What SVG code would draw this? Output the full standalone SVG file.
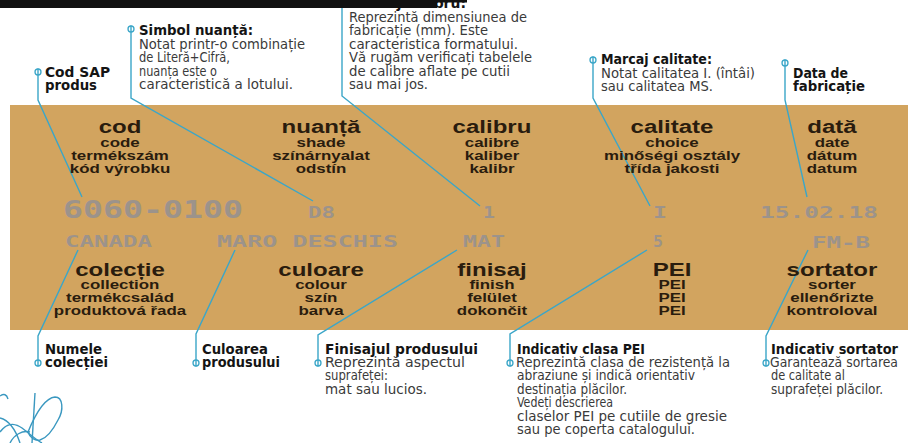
<svg xmlns="http://www.w3.org/2000/svg" width="909" height="443" viewBox="0 0 909 443">
<style>
.t{font-family:"DejaVu Sans Condensed","Liberation Sans Narrow",sans-serif;font-stretch:condensed;font-size:14.5px;fill:#3a3a3a}
.tb{font-weight:bold;fill:#141414}
.h{font-family:"Liberation Sans",Arial,sans-serif;font-weight:bold;font-size:18.5px;fill:#2a1c0e;text-anchor:middle}
.s{font-size:13px}
.m{font-family:"DejaVu Sans Mono","Liberation Mono",monospace;font-weight:bold;fill:#9c938b}
.c{fill:none;stroke:#3ba6c8;stroke-width:1.4}
.dot{fill:none;stroke:#3ba6c8;stroke-width:1.3}
.sig{fill:none;stroke:#3a98c0;stroke-width:1.4}
</style>
<rect x="0" y="0" width="909" height="443" fill="#fff"/>
<rect id="band" x="10" y="105" width="898" height="225" fill="#D2A45F"/>

<g id="connectors">
<path class="c" d="M38,68.5 V100 L82,197"/><circle class="dot" cx="38" cy="72" r="3"/>
<path class="c" d="M131,25.5 V98 L313,201"/><circle class="dot" cx="131" cy="29" r="3"/>
<path class="c" d="M342,3 V96 L480,206"/>
<path class="c" d="M593,56.5 V98 L650,206"/><circle class="dot" cx="593" cy="60" r="3"/>
<path class="c" d="M785,59.5 V100 L807,197"/><circle class="dot" cx="785" cy="63" r="3"/>
<path class="c" d="M78,250 L38,336 V366.5"/><circle class="dot" cx="38" cy="363" r="3"/>
<path class="c" d="M235,250 L196,334 V366.5"/><circle class="dot" cx="196" cy="363" r="3"/>
<path class="c" d="M457,250 L318,335 V366.5"/><circle class="dot" cx="318" cy="363" r="3"/>
<path class="c" d="M647,250 L510,334 V366.5"/><circle class="dot" cx="510" cy="363" r="3"/>
<path class="c" d="M808,250 L766,336 V366.5"/><circle class="dot" cx="766" cy="363" r="3"/>
</g>

<g id="col-cod" transform="translate(120 0) scale(1.3 1)">
<text class="h" x="0" y="133">cod</text>
<text class="h s" x="0" y="147">code</text>
<text class="h s" x="0" y="160">termékszám</text>
<text class="h s" x="0" y="173">kód výrobku</text>
</g>
<g id="col-nuanta" transform="translate(321 0) scale(1.3 1)">
<text class="h" x="0" y="133">nuanță</text>
<text class="h s" x="0" y="147">shade</text>
<text class="h s" x="0" y="160">színárnyalat</text>
<text class="h s" x="0" y="173">odstín</text>
</g>
<g id="col-calibru" transform="translate(492 0) scale(1.3 1)">
<text class="h" x="0" y="133">calibru</text>
<text class="h s" x="0" y="147">calibre</text>
<text class="h s" x="0" y="160">kaliber</text>
<text class="h s" x="0" y="173">kalibr</text>
</g>
<g id="col-calitate" transform="translate(672 0) scale(1.3 1)">
<text class="h" x="0" y="133">calitate</text>
<text class="h s" x="0" y="147">choice</text>
<text class="h s" x="0" y="160">minőségi osztály</text>
<text class="h s" x="0" y="173">třída jakosti</text>
</g>
<g id="col-data" transform="translate(832 0) scale(1.3 1)">
<text class="h" x="0" y="133">dată</text>
<text class="h s" x="0" y="147">date</text>
<text class="h s" x="0" y="160">dátum</text>
<text class="h s" x="0" y="173">datum</text>
</g>
<g id="col-colectie" transform="translate(120 0) scale(1.3 1)">
<text class="h" x="0" y="276">colecție</text>
<text class="h s" x="0" y="289">collection</text>
<text class="h s" x="0" y="302">termékcsalád</text>
<text class="h s" x="0" y="315">produktová řada</text>
</g>
<g id="col-culoare" transform="translate(321 0) scale(1.3 1)">
<text class="h" x="0" y="276">culoare</text>
<text class="h s" x="0" y="289">colour</text>
<text class="h s" x="0" y="302">szín</text>
<text class="h s" x="0" y="315">barva</text>
</g>
<g id="col-finisaj" transform="translate(492 0) scale(1.3 1)">
<text class="h" x="0" y="276">finisaj</text>
<text class="h s" x="0" y="289">finish</text>
<text class="h s" x="0" y="302">felület</text>
<text class="h s" x="0" y="315">dokončit</text>
</g>
<g id="col-pei" transform="translate(672 0) scale(1.3 1)">
<text class="h" x="0" y="276">PEI</text>
<text class="h s" x="0" y="289">PEI</text>
<text class="h s" x="0" y="302">PEI</text>
<text class="h s" x="0" y="315">PEI</text>
</g>
<g id="col-sortator" transform="translate(832 0) scale(1.3 1)">
<text class="h" x="0" y="276">sortator</text>
<text class="h s" x="0" y="289">sorter</text>
<text class="h s" x="0" y="302">ellenőrizte</text>
<text class="h s" x="0" y="315">kontroloval</text>
</g>

<g id="values">
<text class="m" x="63" y="218" font-size="24.5" textLength="180" lengthAdjust="spacingAndGlyphs">6060-0100</text>
<text class="m" x="308" y="218" font-size="15" textLength="27" lengthAdjust="spacingAndGlyphs">D8</text>
<text class="m" x="483" y="218" font-size="15" textLength="12" lengthAdjust="spacingAndGlyphs">1</text>
<text class="m" x="653" y="218" font-size="15" textLength="14" lengthAdjust="spacingAndGlyphs">I</text>
<text class="m" x="760" y="218" font-size="16" textLength="118" lengthAdjust="spacingAndGlyphs">15.02.18</text>
<text class="m" x="65" y="247" font-size="16" textLength="87" lengthAdjust="spacingAndGlyphs">CANADA</text>
<text class="m" x="217" y="247" font-size="16" textLength="181" lengthAdjust="spacingAndGlyphs">MARO DESCHIS</text>
<text class="m" x="463" y="247" font-size="16" textLength="42" lengthAdjust="spacingAndGlyphs">MAT</text>
<text class="m" x="653" y="247" font-size="16" textLength="10" lengthAdjust="spacingAndGlyphs">5</text>
<text class="m" x="812" y="248" font-size="16" textLength="58" lengthAdjust="spacingAndGlyphs">FM-B</text>
</g>

<g id="note-cod">
<text class="t tb" x="45" y="77" textLength="65" lengthAdjust="spacingAndGlyphs">Cod SAP</text>
<text class="t tb" x="45" y="90" textLength="52" lengthAdjust="spacingAndGlyphs">produs</text>
</g>
<g id="note-nuanta">
<text class="t tb" x="139" y="35" textLength="114" lengthAdjust="spacingAndGlyphs">Simbol nuanță:</text>
<text class="t" x="139" y="48.5" textLength="166" lengthAdjust="spacingAndGlyphs">Notat printr-o combinație</text>
<text class="t" x="139" y="62" textLength="91" lengthAdjust="spacingAndGlyphs">de Literă+Cifră,</text>
<text class="t" x="139" y="75.5" textLength="78" lengthAdjust="spacingAndGlyphs">nuanța este o</text>
<text class="t" x="139" y="89" textLength="154" lengthAdjust="spacingAndGlyphs">caracteristică a lotului.</text>
</g>
<g id="note-calibru">
<text class="t tb" x="349" y="8" textLength="117" lengthAdjust="spacingAndGlyphs">Marcaj calibru:</text>
<text class="t" x="349" y="21.5" textLength="178" lengthAdjust="spacingAndGlyphs">Reprezintă dimensiunea de</text>
<text class="t" x="349" y="35" textLength="139" lengthAdjust="spacingAndGlyphs">fabricație (mm). Este</text>
<text class="t" x="349" y="48.5" textLength="169" lengthAdjust="spacingAndGlyphs">caracteristica formatului.</text>
<text class="t" x="349" y="62" textLength="183" lengthAdjust="spacingAndGlyphs">Vă rugăm verificați tabelele</text>
<text class="t" x="349" y="75.5" textLength="161" lengthAdjust="spacingAndGlyphs">de calibre aflate pe cutii</text>
<text class="t" x="349" y="89" textLength="79" lengthAdjust="spacingAndGlyphs">sau mai jos.</text>
</g>
<g id="note-calitate">
<text class="t tb" x="601" y="64" textLength="111" lengthAdjust="spacingAndGlyphs">Marcaj calitate:</text>
<text class="t" x="601" y="77.5" textLength="154" lengthAdjust="spacingAndGlyphs">Notat calitatea I. (întâi)</text>
<text class="t" x="601" y="91" textLength="112" lengthAdjust="spacingAndGlyphs">sau calitatea MS.</text>
</g>
<g id="note-data">
<text class="t tb" x="793" y="78" textLength="55" lengthAdjust="spacingAndGlyphs">Data de</text>
<text class="t tb" x="793" y="91" textLength="72" lengthAdjust="spacingAndGlyphs">fabricație</text>
</g>
<g id="note-colectie">
<text class="t tb" x="45" y="354" textLength="57" lengthAdjust="spacingAndGlyphs">Numele</text>
<text class="t tb" x="45" y="367" textLength="63" lengthAdjust="spacingAndGlyphs">colecției</text>
</g>
<g id="note-culoare">
<text class="t tb" x="202" y="354" textLength="66" lengthAdjust="spacingAndGlyphs">Culoarea</text>
<text class="t tb" x="202" y="367" textLength="78" lengthAdjust="spacingAndGlyphs">produsului</text>
</g>
<g id="note-finisaj">
<text class="t tb" x="325" y="354" textLength="153" lengthAdjust="spacingAndGlyphs">Finisajul produsului</text>
<text class="t" x="325" y="367" textLength="140" lengthAdjust="spacingAndGlyphs">Reprezintă aspectul</text>
<text class="t" x="325" y="380.4" textLength="63" lengthAdjust="spacingAndGlyphs">suprafeței:</text>
<text class="t" x="325" y="393.8" textLength="102" lengthAdjust="spacingAndGlyphs">mat sau lucios.</text>
</g>
<g id="note-pei">
<text class="t tb" x="517" y="354" textLength="128" lengthAdjust="spacingAndGlyphs">Indicativ clasa PEI</text>
<text class="t" x="516" y="367" textLength="214" lengthAdjust="spacingAndGlyphs">Reprezintă clasa de rezistență la</text>
<text class="t" x="517" y="380.4" textLength="178" lengthAdjust="spacingAndGlyphs">abraziune și indică orientativ</text>
<text class="t" x="517" y="393.8" textLength="110" lengthAdjust="spacingAndGlyphs">destinația plăcilor.</text>
<text class="t" x="517" y="407.2" textLength="96" lengthAdjust="spacingAndGlyphs">Vedeți descrierea</text>
<text class="t" x="517" y="420.6" textLength="210" lengthAdjust="spacingAndGlyphs">claselor PEI pe cutiile de gresie</text>
<text class="t" x="517" y="434" textLength="178" lengthAdjust="spacingAndGlyphs">sau pe coperta catalogului.</text>
</g>
<g id="note-sortator">
<text class="t tb" x="771" y="354" textLength="127" lengthAdjust="spacingAndGlyphs">Indicativ sortator</text>
<text class="t" x="770" y="367" textLength="128" lengthAdjust="spacingAndGlyphs">Garantează sortarea</text>
<text class="t" x="771" y="380.4" textLength="74" lengthAdjust="spacingAndGlyphs">de calitate al</text>
<text class="t" x="771" y="393.8" textLength="112" lengthAdjust="spacingAndGlyphs">suprafeței plăcilor.</text>
</g>

<rect x="0" y="0" width="437" height="8" fill="#111"/>
<rect x="437" y="0" width="30" height="2.5" fill="#111"/>

<g id="signature">
<path class="sig" d="M0,396 Q6,392 8,399"/>
<path class="sig" d="M35,393 L32,443"/>
<path class="sig" d="M28,432 C35,415 45,398 55,397 C63,397 64,410 58,420 C53,430 47,438 40,440 C35,441 30,438 28,432"/>
<path class="sig" d="M0,418 C8,420 15,428 20,443"/>
<path class="sig" d="M0,432 C6,424 14,422 22,428 C30,434 36,440 42,443"/>
<path class="sig" d="M10,443 C14,435 22,430 30,432"/>
</g>
</svg>
